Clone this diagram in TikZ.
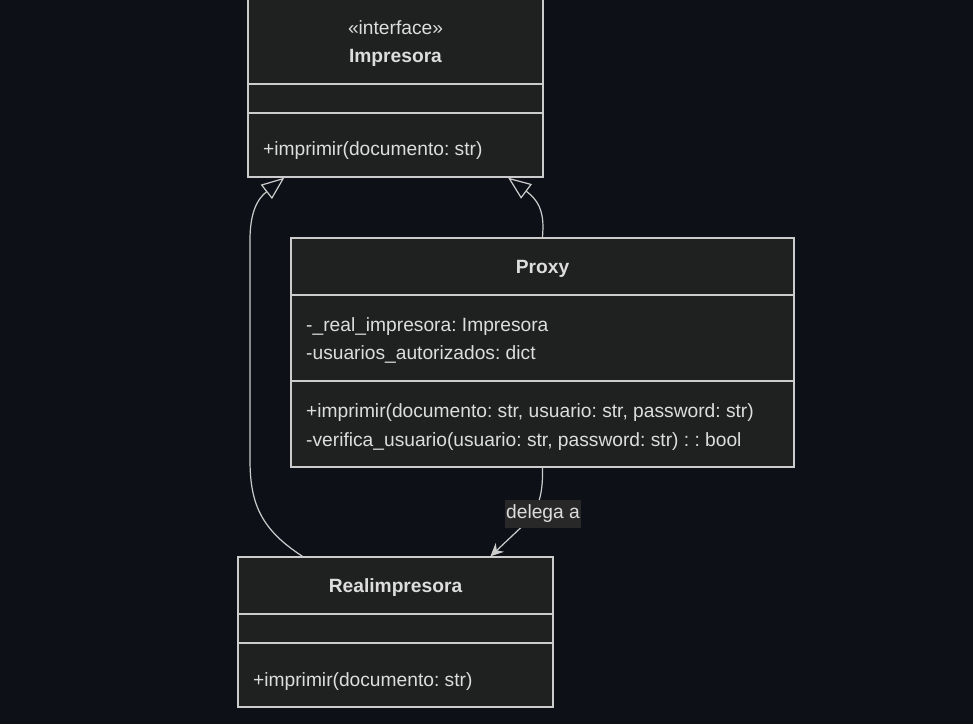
\documentclass[tikz,border=0pt]{standalone}
\usepackage{fontspec}
\setmainfont{Liberation Sans}
\usetikzlibrary{arrows.meta,calc}
\definecolor{bgdark}{HTML}{0D1117}
\definecolor{boxfill}{HTML}{1F2020}
\definecolor{boxline}{HTML}{CCCCCC}
\definecolor{txt}{HTML}{DDDDDD}
\definecolor{lblfill}{HTML}{282828}
\frenchspacing
\tikzset{>=latex,
  classbox/.style={draw=boxline, fill=boxfill, line width=1.3pt, inner sep=0pt},
  divider/.style={draw=boxline, line width=1.3pt},
  member/.style={anchor=west, text=txt, inner sep=0pt, yshift=-2.5pt, font=\fontsize{19.2}{22}\selectfont},
  title/.style={text=txt, inner sep=0pt, yshift=-2.5pt, font=\bfseries\fontsize{19.2}{22}\selectfont},
  stereo/.style={text=txt, inner sep=0pt, yshift=-1.5pt, font=\fontsize{19.2}{22}\selectfont},
  realize/.style={draw=boxline, line width=1.2pt, -{Triangle[open, length=23pt, width=18pt]}},
  assoc/.style={draw=boxline, line width=1.2pt, -{Stealth[length=13pt, width=12pt]}},
  lbl/.style={fill=lblfill, text=txt, inner xsep=1pt, minimum height=28pt, font=\fontsize{19.2}{22}\selectfont}
}

\begin{document}
\begin{tikzpicture}[x=1pt, y=-1pt]
  \useasboundingbox (0,0) rectangle (973,724);
  \fill[bgdark] (0,0) rectangle (973,724);

  % Impresora
  \node[classbox, minimum width=295pt, minimum height=179pt] (imp) at (395.5,87.5) {};
  \draw[divider] (248,84) -- (543,84);
  \draw[divider] (248,113) -- (543,113);
  \node[stereo] (impst) at (395.5,26) {«interface»};
  \node[title] (impname) at (395.5,55) {Impresora};
  \node[member] (impm1) at (263,148) {+imprimir(documento: str)};

  % Proxy
  \node[classbox, minimum width=503pt, minimum height=229pt] (proxy) at (542.5,352.5) {};
  \draw[divider] (291,295) -- (794,295);
  \draw[divider] (291,381) -- (794,381);
  \node[title] (proxyname) at (542.5,266) {Proxy};
  \node[member] (proxya1) at (306,324) {-\_real\_impresora: Impresora};
  \node[member] (proxya2) at (306,352) {-usuarios\_autorizados: dict};
  \node[member] (proxym1) at (306,410) {+imprimir(documento: str, usuario: str, password: str)};
  \node[member] (proxym2) at (306,439) {-verifica\_usuario(usuario: str, password: str) : : bool};

  % Realimpresora
  \node[classbox, minimum width=315pt, minimum height=150pt] (real) at (395.5,632) {};
  \draw[divider] (238,614) -- (553,614);
  \draw[divider] (238,643) -- (553,643);
  \node[title] (realname) at (395.5,585) {Realimpresora};
  \node[member] (realm1) at (253,679) {+imprimir(documento: str)};

  % connectors
  \draw[realize] ($(real.north west)!0.206!(real.north east)$)
    .. controls (262,530) and (250,505) .. (250,460) -- (250,240)
    .. controls (250,215) and (256,200) .. ($(imp.south west)!0.125!(imp.south east)$);
  \draw[realize] (proxy.north) -- (543,228)
    .. controls (543,210) and (538,200) .. ($(imp.south west)!0.88!(imp.south east)$);
  \draw[assoc] (proxy.south) .. controls (543,490) and (540,505) .. (530,519)
    -- ($(real.north west)!0.8!(real.north east)$);
  \node[lbl] (dlg) at (543,513.5) {delega a};
\end{tikzpicture}
\end{document}
